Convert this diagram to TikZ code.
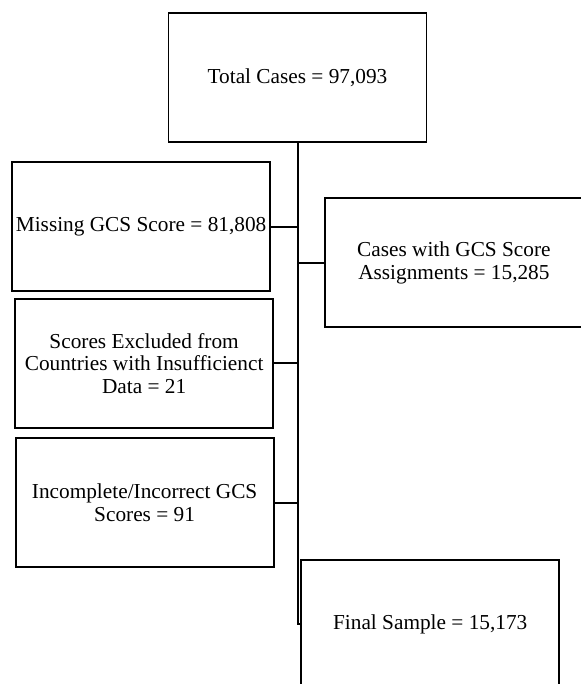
\documentclass[tikz,border=0pt]{standalone}
\usepackage{fontspec}
\setmainfont{Liberation Serif}
\usetikzlibrary{positioning,calc}

\begin{document}
\begin{tikzpicture}[x=1pt, y=1pt,
    box/.style={draw, line width=1.8pt, minimum width=258pt, minimum height=129pt,
        align=center, inner sep=2pt, font=\fontsize{21.3}{22.5}\selectfont},
    link/.style={line width=2pt}]
    \useasboundingbox (0,0) rectangle (580,684);

    \node[box] (total) at (297.5,606.5) {Total Cases = 97,093};
    \node[box, below left=18.3pt and 26.5pt of total.south] (missing) {Missing GCS Score = 81,808};
    \node[box, below=6pt of missing, xshift=3pt] (excluded) {Scores Excluded from\\Countries with Insufficienct\\Data = 21};
    \node[box, below=8.7pt of excluded, xshift=0.5pt] (incorrect) {Incomplete/Incorrect GCS\\Scores = 91};
    
    \node[box, right=53pt of missing, yshift=-36.3pt] (cases) {Cases with GCS Score\\Assignments = 15,285};
    \node[box] (final) at (430.2,59.5) {Final Sample = 15,173};
    
    \draw[link] (total.south) -- (total.south |- final.west) -- (final.west);
    \draw[link] (missing.east) -- (missing.east -| total.south);
    \draw[link] (excluded.east) -- (excluded.east -| total.south);
    \draw[link] (incorrect.east) -- (incorrect.east -| total.south);
    \draw[link] (cases.west) -- (cases.west -| total.south);
    
\end{tikzpicture}
\end{document}
